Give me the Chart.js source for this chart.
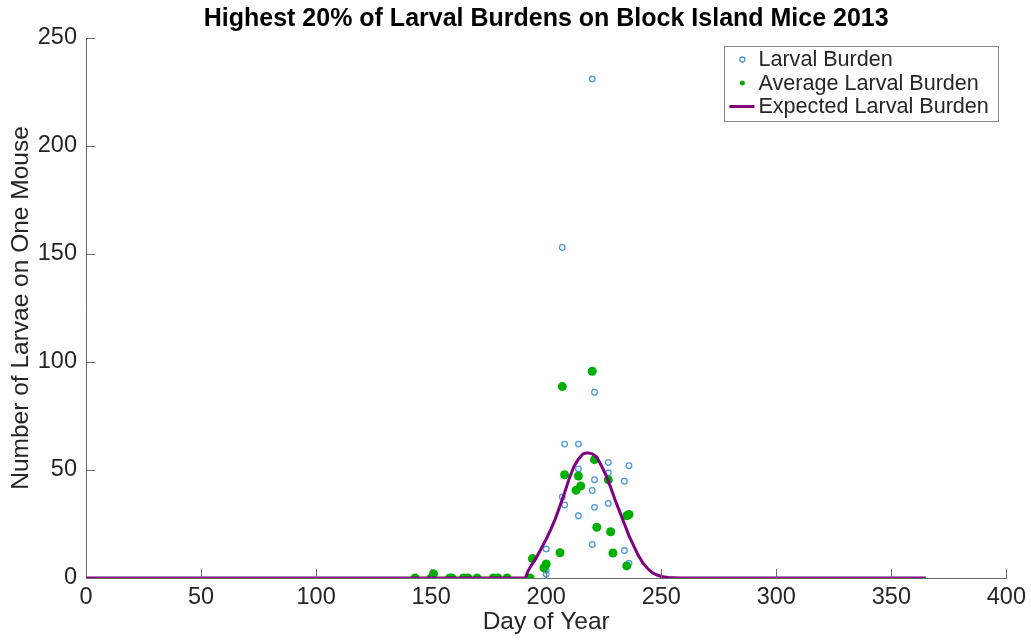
<!DOCTYPE html>
<html>
<head>
<meta charset="utf-8">
<script src="https://cdn.jsdelivr.net/npm/chart.js@4/dist/chart.umd.min.js"></script>
<style>
  html, body { margin: 0; padding: 0; background: #fff; }
  #wrap { width: 1031px; height: 641px; position: relative; }
</style>
</head>
<body>
<div id="wrap"><canvas id="c" width="1031" height="641"></canvas></div>
<script>
// ---- Data ----
const titleText = "Highest 20% of Larval Burdens on Block Island Mice 2013";
const xTitle = "Day of Year";
const yTitle = "Number of Larvae on One Mouse";
const seriesNames = ["Larval Burden", "Average Larval Burden", "Expected Larval Burden"];

// Individual mice (blue open circles)
const burdenDays = [143,150,158,159,164,166,170,177,179,183,193,
  200,200,200,207,207,208,208,214,214,214,220,220,220,221,221,221,227,227,227,234,234,236,236];
const burdenValues = [0,0,0,0,0,0,0,0,0,0,0,
  13.4,3.6,1.8,153,37.5,62,33.8,62,50.5,28.8,231,40.5,15.5,86,45.5,32.7,53.5,48.7,34.5,44.8,12.7,52,6.8];

// Daily averages (green dots)
const avgDays = [143,150,151,158,159,164,166,170,177,179,183,193,194,199,200,206,207,208,213,214,215,220,221,222,227,228,229,235,235,236];
const avgValues = [0,0,2,0,0,0,0,0,0,0,0,0,9,4.7,6.5,11.7,88.6,47.8,40.6,47.2,42.6,95.7,54.8,23.5,45.4,21.4,11.6,5.6,28.8,29.4];

// Expected curve (purple line)
const expDays = [0,191,192,193,194,196,198,200,202,204,206,208,210,212,214,216,218,220,222,224,226,228,230,232,234,236,238,240,242,244,246,248,250,253,258,365];
const expValues = [0,0,3,5,6.5,10,14,18,22.5,27.5,33.5,39.5,46,51.5,55,57.5,58,57.5,56,52,47.5,42,36,30.5,25,19.5,15,10.5,7,4.5,2.5,1.5,0.7,0.2,0,0];

const xTicks = [0,50,100,150,200,250,300,350,400];
const yTicks = [0,50,100,150,200,250];

const toPts = (xs, ys) => xs.map((x, i) => ({x: x, y: ys[i]}));

const FONT = "'Liberation Sans', Arial, Helvetica, sans-serif";
const TXT = '#262626';
const AXC = '#6a6a6a';
const BLUE = '#4a9ade';
const GREEN = '#00b000';
const PURPLE = '#800080';

const inwardTicks = {
  id: 'inwardTicks',
  afterDraw(chart) {
    const ctx = chart.ctx, a = chart.chartArea;
    const xs = chart.scales.x, ys = chart.scales.y;
    ctx.save();
    ctx.strokeStyle = AXC; ctx.lineWidth = 1;
    ctx.beginPath();
    xTicks.forEach(v => { const p = Math.round(xs.getPixelForValue(v)) + 0.5; ctx.moveTo(p, a.bottom); ctx.lineTo(p, a.bottom - 9); });
    yTicks.forEach(v => { const p = Math.round(ys.getPixelForValue(v)) + 0.5; ctx.moveTo(a.left, p); ctx.lineTo(a.left + 9, p); });
    ctx.stroke();
    ctx.restore();
  }
};

const boxLegend = {
  id: 'boxLegend',
  afterDraw(chart) {
    const ctx = chart.ctx, a = chart.chartArea;
    const right = a.right - 8, top = a.top + 8, w = 274, h = 75;
    const left = right - w;
    ctx.save();
    ctx.fillStyle = '#fff';
    ctx.fillRect(left, top, w, h);
    ctx.strokeStyle = '#8a8a8a'; ctx.lineWidth = 1;
    ctx.strokeRect(Math.round(left) + 0.5, Math.round(top) + 0.5, w, h);
    ctx.font = '21.6px ' + FONT;
    ctx.fillStyle = TXT; ctx.textBaseline = 'middle'; ctx.textAlign = 'left';
    const tx = left + 34, mx = left + 18;
    const rows = [top + 13.5, top + 37, top + 60.5];
    ctx.beginPath(); ctx.strokeStyle = BLUE; ctx.lineWidth = 1.3;
    ctx.arc(mx, rows[0], 2.5, 0, Math.PI * 2); ctx.stroke();
    ctx.beginPath(); ctx.fillStyle = GREEN;
    ctx.arc(mx, rows[1], 2.5, 0, Math.PI * 2); ctx.fill();
    ctx.beginPath(); ctx.strokeStyle = PURPLE; ctx.lineWidth = 3;
    ctx.moveTo(left + 5, rows[2]); ctx.lineTo(left + 30, rows[2]); ctx.stroke();
    ctx.fillStyle = TXT;
    seriesNames.forEach((n, i) => ctx.fillText(n, tx, rows[i] + 1));
    ctx.restore();
  }
};

new Chart(document.getElementById('c'), {
  type: 'scatter',
  data: {
    datasets: [
      { label: seriesNames[2], data: toPts(expDays, expValues), showLine: true,
        borderColor: PURPLE, backgroundColor: PURPLE, borderWidth: 3, pointRadius: 0, tension: 0 },
      { label: seriesNames[1], data: toPts(avgDays, avgValues),
        backgroundColor: GREEN, borderColor: GREEN, borderWidth: 0, pointRadius: 4.5, pointHoverRadius: 4.5 },
      { label: seriesNames[0], data: toPts(burdenDays, burdenValues),
        backgroundColor: 'rgba(0,0,0,0)', borderColor: BLUE, borderWidth: 1.3, pointRadius: 2.8, pointHoverRadius: 2.8 }
    ]
  },
  options: {
    responsive: false,
    animation: false,
    events: [],
    layout: { padding: { right: 5, left: 0, top: 0, bottom: 0 } },
    plugins: {
      legend: { display: false },
      tooltip: { enabled: false },
      title: { display: true, text: titleText, color: '#000', fullSize: false,
        font: { family: FONT, size: 25, weight: 'bold' }, padding: { top: 4.5, bottom: 3.5 } }
    },
    scales: {
      x: {
        type: 'linear', min: 0, max: 400,
        afterFit: s => { s.height = 63; },
        afterBuildTicks: s => { s.ticks = xTicks.map(v => ({value: v})); },
        ticks: { color: TXT, font: { family: FONT, size: 23.5 }, padding: 5, maxRotation: 0 },
        grid: { display: true, drawOnChartArea: false, drawTicks: false },
        border: { display: true, color: AXC, width: 1 },
        title: { display: true, text: xTitle, color: TXT, font: { family: FONT, size: 24.5 }, padding: { top: 0, bottom: 4 } }
      },
      y: {
        type: 'linear', min: 0, max: 250,
        afterFit: s => { s.width = 86; },
        afterBuildTicks: s => { s.ticks = yTicks.map(v => ({value: v})); },
        ticks: { color: TXT, font: { family: FONT, size: 23.5 }, padding: 9 },
        grid: { display: true, drawOnChartArea: false, drawTicks: false },
        border: { display: true, color: AXC, width: 1 },
        title: { display: true, text: yTitle, color: TXT, font: { family: FONT, size: 24.5 }, padding: { top: 7, bottom: 0 } }
      }
    }
  },
  plugins: [inwardTicks, boxLegend]
});
</script>
</body>
</html>
